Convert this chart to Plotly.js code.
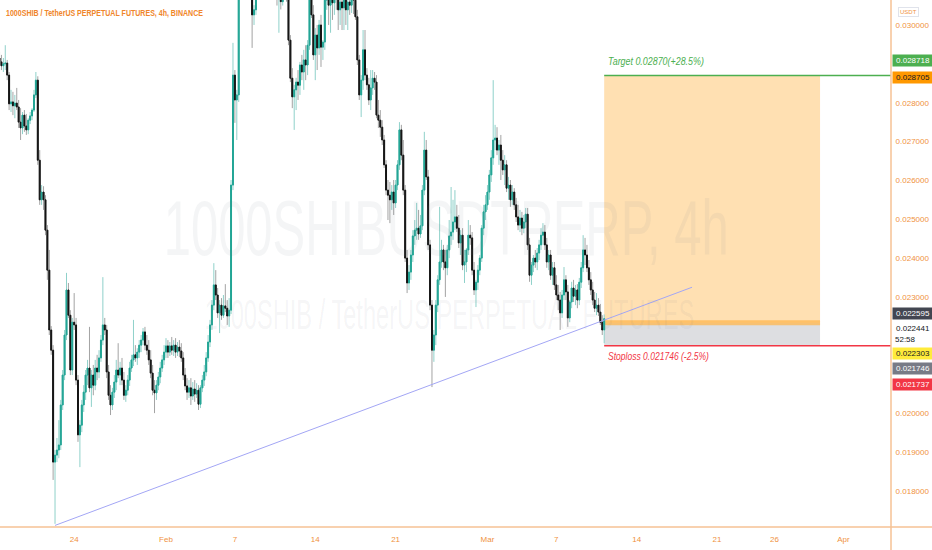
<!DOCTYPE html>
<html><head><meta charset="utf-8">
<script src="https://cdn.plot.ly/plotly-3.0.1.min.js"></script>
<style>html,body{margin:0;padding:0;background:#fff;}#chart{width:932px;height:550px;}</style>
</head><body><div id="chart"></div>
<script>
// ---- data: 1000SHIB/USDT 4h candles (start 2022-01-17 12:00, 4h step) ----
const openP = [
0.02915,0.02905,0.02895,0.02900,0.02902,0.02871,0.02797,0.02802,0.02792,0.02799,
0.02789,0.02750,0.02735,0.02768,0.02740,0.02730,0.02755,0.02766,0.02781,0.02820,
0.02858,0.02652,0.02550,0.02570,0.02550,0.02472,0.02369,0.02215,0.02163,0.01875,
0.01893,0.01906,0.01919,0.02022,0.02099,0.02202,0.02318,0.02253,0.02112,0.02235,
0.02228,0.02086,0.01945,0.01970,0.02022,0.02055,0.02099,0.02117,0.02066,0.02099,
0.02073,0.02117,0.02107,0.02143,0.02189,0.02228,0.02215,0.02107,0.02047,0.02022,
0.02055,0.02081,0.02112,0.02099,0.02117,0.02086,0.02047,0.02060,0.02086,0.02117,
0.02138,0.02151,0.02143,0.02158,0.02176,0.02189,0.02210,0.02176,0.02163,0.02138,
0.02104,0.02060,0.02053,0.02073,0.02094,0.02117,0.02138,0.02158,0.02174,0.02158,
0.02174,0.02163,0.02176,0.02158,0.02171,0.02161,0.02143,0.02099,0.02071,0.02055,
0.02066,0.02045,0.02063,0.02050,0.02060,0.02024,0.02066,0.02086,0.02107,0.02143,
0.02184,0.02228,0.02279,0.02331,0.02305,0.02259,0.02279,0.02253,0.02277,0.02271,
0.02251,0.02266,0.02588,0.02871,0.02807,0.02820,0.03167,0.03270,0.03380,0.03300,
0.03220,0.03160,0.03100,0.03026,0.03039,0.03116,0.03180,0.03220,0.03180,0.03150,
0.03170,0.03130,0.03150,0.03120,0.03100,0.03120,0.03070,0.03110,0.03060,0.03120,
0.03100,0.03090,0.02961,0.02863,0.02815,0.02833,0.02853,0.02845,0.02897,0.02879,
0.02910,0.02897,0.02948,0.03077,0.03026,0.02923,0.02974,0.02941,0.03000,0.02943,
0.02956,0.03064,0.03090,0.03051,0.03077,0.03057,0.03085,0.03069,0.03039,0.03059,
0.03044,0.03064,0.03039,0.03059,0.03051,0.03077,0.03064,0.03021,0.02910,0.02820,
0.02858,0.02936,0.02871,0.02846,0.02807,0.02838,0.02863,0.02853,0.02768,0.02755,
0.02737,0.02704,0.02640,0.02575,0.02562,0.02550,0.02570,0.02542,0.02588,0.02640,
0.02730,0.02665,0.02575,0.02400,0.02336,0.02364,0.02408,0.02457,0.02472,0.02477,
0.02462,0.02483,0.02575,0.02678,0.02609,0.02434,0.02279,0.02163,0.02202,0.02279,
0.02344,0.02390,0.02421,0.02390,0.02375,0.02421,0.02457,0.02467,0.02493,0.02506,
0.02477,0.02439,0.02459,0.02382,0.02390,0.02421,0.02459,0.02452,0.02369,0.02318,
0.02338,0.02369,0.02400,0.02477,0.02519,0.02537,0.02570,0.02614,0.02658,0.02704,
0.02709,0.02678,0.02691,0.02652,0.02627,0.02640,0.02580,0.02588,0.02550,0.02570,
0.02537,0.02506,0.02485,0.02503,0.02477,0.02493,0.02513,0.02434,0.02356,0.02382,
0.02400,0.02390,0.02413,0.02434,0.02459,0.02467,0.02434,0.02390,0.02408,0.02356,
0.02375,0.02331,0.02305,0.02292,0.02259,0.02305,0.02344,0.02313,0.02246,0.02287,
0.02323,0.02302,0.02318,0.02292,0.02338,0.02375,0.02421,0.02408,0.02375,0.02344,
0.02318,0.02292,0.02271,0.02279,0.02261,0.02235,0.02215];
const highP = [
0.02931,0.02923,0.02915,0.02948,0.02910,0.02879,0.02833,0.02828,0.02820,0.02838,
0.02807,0.02786,0.02776,0.02781,0.02771,0.02760,0.02776,0.02786,0.02833,0.02879,
0.02868,0.02678,0.02588,0.02585,0.02562,0.02485,0.02421,0.02225,0.02176,0.01906,
0.01937,0.01983,0.02035,0.02112,0.02215,0.02362,0.02336,0.02266,0.02246,0.02310,
0.02246,0.02099,0.01983,0.02035,0.02073,0.02112,0.02138,0.02223,0.02112,0.02125,
0.02138,0.02151,0.02163,0.02202,0.02351,0.02246,0.02228,0.02125,0.02073,0.02066,
0.02099,0.02138,0.02181,0.02133,0.02143,0.02107,0.02073,0.02099,0.02133,0.02151,
0.02241,0.02176,0.02168,0.02189,0.02202,0.02220,0.02223,0.02202,0.02189,0.02163,
0.02125,0.02086,0.02086,0.02107,0.02133,0.02151,0.02176,0.02194,0.02189,0.02184,
0.02197,0.02189,0.02194,0.02184,0.02189,0.02181,0.02158,0.02117,0.02091,0.02086,
0.02091,0.02081,0.02086,0.02078,0.02073,0.02073,0.02099,0.02125,0.02158,0.02202,
0.02241,0.02292,0.02387,0.02369,0.02323,0.02292,0.02297,0.02305,0.02333,0.02292,
0.02297,0.02601,0.02954,0.02884,0.02833,0.03200,0.03300,0.03430,0.03450,0.03360,
0.03280,0.03200,0.03120,0.03051,0.03141,0.03200,0.03250,0.03260,0.03230,0.03200,
0.03210,0.03180,0.03190,0.03160,0.03140,0.03150,0.03130,0.03160,0.03140,0.03170,
0.03150,0.03100,0.02974,0.02889,0.02846,0.02864,0.02884,0.02905,0.02923,0.02936,
0.02948,0.02961,0.03103,0.03116,0.03051,0.02992,0.03000,0.03013,0.03026,0.02961,
0.03077,0.03116,0.03129,0.03103,0.03116,0.03090,0.03129,0.03103,0.03090,0.03095,
0.03090,0.03103,0.03077,0.03090,0.03103,0.03103,0.03090,0.03039,0.02923,0.02871,
0.02987,0.02987,0.02889,0.02864,0.02884,0.02884,0.02879,0.02871,0.02807,0.02781,
0.02755,0.02717,0.02652,0.02601,0.02596,0.02588,0.02601,0.02601,0.02652,0.02750,
0.02743,0.02704,0.02588,0.02421,0.02382,0.02421,0.02472,0.02498,0.02542,0.02524,
0.02511,0.02588,0.02725,0.02704,0.02627,0.02447,0.02292,0.02215,0.02292,0.02356,
0.02532,0.02447,0.02434,0.02421,0.02434,0.02498,0.02583,0.02550,0.02575,0.02537,
0.02511,0.02472,0.02477,0.02421,0.02426,0.02498,0.02485,0.02467,0.02390,0.02344,
0.02382,0.02408,0.02485,0.02537,0.02562,0.02588,0.02627,0.02678,0.02858,0.02743,
0.02737,0.02704,0.02717,0.02678,0.02665,0.02652,0.02609,0.02601,0.02588,0.02580,
0.02555,0.02537,0.02524,0.02519,0.02511,0.02529,0.02529,0.02452,0.02390,0.02408,
0.02421,0.02426,0.02447,0.02477,0.02490,0.02485,0.02452,0.02421,0.02421,0.02390,
0.02390,0.02356,0.02331,0.02313,0.02318,0.02377,0.02356,0.02331,0.02292,0.02339,
0.02344,0.02331,0.02333,0.02349,0.02390,0.02459,0.02452,0.02434,0.02395,0.02364,
0.02339,0.02313,0.02310,0.02297,0.02282,0.02253,0.02255];
const lowP = [
0.02894,0.02884,0.02879,0.02884,0.02858,0.02781,0.02776,0.02768,0.02760,0.02781,
0.02735,0.02704,0.02719,0.02725,0.02717,0.02719,0.02745,0.02755,0.02776,0.02812,
0.02640,0.02537,0.02537,0.02524,0.02459,0.02344,0.02202,0.02151,0.01829,0.01716,
0.01875,0.01885,0.01906,0.02009,0.02086,0.02189,0.02246,0.02099,0.02099,0.02215,
0.02073,0.01927,0.01862,0.01952,0.02004,0.02035,0.02073,0.02055,0.02017,0.02047,
0.02060,0.02086,0.02091,0.02133,0.02176,0.02202,0.02091,0.02035,0.01996,0.02009,
0.02040,0.02060,0.02091,0.02073,0.02073,0.02035,0.02030,0.02047,0.02071,0.02107,
0.02122,0.02133,0.02125,0.02143,0.02158,0.02176,0.02163,0.02151,0.02125,0.02091,
0.02047,0.02001,0.02035,0.02060,0.02078,0.02107,0.02125,0.02143,0.02143,0.02148,
0.02151,0.02148,0.02143,0.02148,0.02145,0.02133,0.02086,0.02060,0.02035,0.02040,
0.02022,0.02035,0.02030,0.02040,0.02009,0.02014,0.02055,0.02071,0.02096,0.02133,
0.02171,0.02215,0.02266,0.02292,0.02246,0.02207,0.02241,0.02246,0.02261,0.02228,
0.02223,0.02256,0.02575,0.02748,0.02704,0.02802,0.03140,0.03230,0.03250,0.03180,
0.03120,0.03080,0.02941,0.03000,0.03026,0.03090,0.03150,0.03160,0.03130,0.03100,
0.03110,0.03090,0.03100,0.03080,0.03070,0.03050,0.02980,0.03040,0.03050,0.03080,
0.03060,0.02948,0.02853,0.02786,0.02730,0.02781,0.02807,0.02820,0.02858,0.02833,
0.02858,0.02871,0.02936,0.03018,0.02910,0.02858,0.02884,0.02923,0.02892,0.02910,
0.02936,0.03039,0.03000,0.02980,0.03013,0.03026,0.03039,0.02987,0.03000,0.02987,
0.02987,0.03000,0.02987,0.03026,0.03031,0.03028,0.03013,0.02897,0.02807,0.02763,
0.02833,0.02858,0.02833,0.02794,0.02781,0.02820,0.02833,0.02760,0.02735,0.02712,
0.02691,0.02632,0.02562,0.02498,0.02490,0.02524,0.02511,0.02529,0.02575,0.02627,
0.02652,0.02562,0.02390,0.02310,0.02318,0.02344,0.02390,0.02434,0.02447,0.02447,
0.02452,0.02472,0.02562,0.02601,0.02421,0.02266,0.02068,0.02133,0.02176,0.02261,
0.02331,0.02375,0.02369,0.02300,0.02356,0.02400,0.02434,0.02447,0.02472,0.02467,
0.02426,0.02408,0.02369,0.02336,0.02364,0.02408,0.02434,0.02356,0.02305,0.02274,
0.02318,0.02356,0.02390,0.02459,0.02498,0.02524,0.02550,0.02596,0.02640,0.02678,
0.02665,0.02640,0.02601,0.02614,0.02588,0.02570,0.02550,0.02532,0.02537,0.02524,
0.02493,0.02472,0.02467,0.02459,0.02464,0.02477,0.02421,0.02339,0.02331,0.02364,
0.02375,0.02369,0.02395,0.02421,0.02434,0.02421,0.02375,0.02369,0.02344,0.02331,
0.02318,0.02292,0.02266,0.02215,0.02246,0.02292,0.02292,0.02223,0.02235,0.02271,
0.02287,0.02279,0.02271,0.02279,0.02323,0.02364,0.02382,0.02364,0.02331,0.02305,
0.02279,0.02261,0.02253,0.02251,0.02228,0.02202,0.02181];
const closeP = [
0.02905,0.02895,0.02900,0.02902,0.02871,0.02797,0.02802,0.02792,0.02799,0.02789,
0.02750,0.02735,0.02768,0.02740,0.02730,0.02755,0.02766,0.02781,0.02820,0.02858,
0.02652,0.02550,0.02570,0.02550,0.02472,0.02369,0.02215,0.02163,0.01875,0.01893,
0.01906,0.01919,0.02022,0.02099,0.02202,0.02318,0.02253,0.02112,0.02235,0.02228,
0.02086,0.01945,0.01970,0.02022,0.02055,0.02099,0.02117,0.02066,0.02099,0.02073,
0.02117,0.02107,0.02143,0.02189,0.02228,0.02215,0.02107,0.02047,0.02022,0.02055,
0.02081,0.02112,0.02099,0.02117,0.02086,0.02047,0.02060,0.02086,0.02117,0.02138,
0.02151,0.02143,0.02158,0.02176,0.02189,0.02210,0.02176,0.02163,0.02138,0.02104,
0.02060,0.02053,0.02073,0.02094,0.02117,0.02138,0.02158,0.02174,0.02158,0.02174,
0.02163,0.02176,0.02158,0.02171,0.02161,0.02143,0.02099,0.02071,0.02055,0.02066,
0.02045,0.02063,0.02050,0.02060,0.02024,0.02066,0.02086,0.02107,0.02143,0.02184,
0.02228,0.02279,0.02331,0.02305,0.02259,0.02279,0.02253,0.02277,0.02271,0.02251,
0.02266,0.02588,0.02871,0.02807,0.02820,0.03167,0.03270,0.03380,0.03300,0.03220,
0.03160,0.03100,0.03026,0.03039,0.03116,0.03180,0.03220,0.03180,0.03150,0.03170,
0.03130,0.03150,0.03120,0.03100,0.03120,0.03070,0.03110,0.03060,0.03120,0.03100,
0.03090,0.02961,0.02863,0.02815,0.02833,0.02853,0.02845,0.02897,0.02879,0.02910,
0.02897,0.02948,0.03077,0.03026,0.02923,0.02974,0.02941,0.03000,0.02943,0.02956,
0.03064,0.03090,0.03051,0.03077,0.03057,0.03085,0.03069,0.03039,0.03059,0.03044,
0.03064,0.03039,0.03059,0.03051,0.03077,0.03064,0.03021,0.02910,0.02820,0.02858,
0.02936,0.02871,0.02846,0.02807,0.02838,0.02863,0.02853,0.02768,0.02755,0.02737,
0.02704,0.02640,0.02575,0.02562,0.02550,0.02570,0.02542,0.02588,0.02640,0.02730,
0.02665,0.02575,0.02400,0.02336,0.02364,0.02408,0.02457,0.02472,0.02477,0.02462,
0.02483,0.02575,0.02678,0.02609,0.02434,0.02279,0.02163,0.02202,0.02279,0.02344,
0.02390,0.02421,0.02390,0.02375,0.02421,0.02457,0.02467,0.02493,0.02506,0.02477,
0.02439,0.02459,0.02382,0.02390,0.02421,0.02459,0.02452,0.02369,0.02318,0.02338,
0.02369,0.02400,0.02477,0.02519,0.02537,0.02570,0.02614,0.02658,0.02704,0.02709,
0.02678,0.02691,0.02652,0.02627,0.02640,0.02580,0.02588,0.02550,0.02570,0.02537,
0.02506,0.02485,0.02503,0.02477,0.02493,0.02513,0.02434,0.02356,0.02382,0.02400,
0.02390,0.02413,0.02434,0.02459,0.02467,0.02434,0.02390,0.02408,0.02356,0.02375,
0.02331,0.02305,0.02292,0.02259,0.02305,0.02344,0.02313,0.02246,0.02287,0.02323,
0.02302,0.02318,0.02292,0.02338,0.02375,0.02421,0.02408,0.02375,0.02344,0.02318,
0.02292,0.02271,0.02279,0.02261,0.02235,0.02215,0.022441];
const startTimeUTC = Date.UTC(2022, 0, 17, 12, 0);
const candleHours = 4;

// x-axis ticks
const tickDates = ['2022-01-24','2022-02-01','2022-02-07','2022-02-14','2022-02-21','2022-03-01','2022-03-07','2022-03-14','2022-03-21','2022-03-26','2022-04-01'];
const tickLabels = ['24','Feb','7','14','21','Mar','7','14','21','26','Apr'];
// y-axis ticks visible in the original (0.021 / 0.022 are hidden behind price labels)
const priceTicks = [0.018, 0.019, 0.020, 0.023, 0.024, 0.025, 0.026, 0.027, 0.028, 0.030];

// trend line (two anchor points)
const trendDates = ['2022-01-22 08:00','2022-03-18 19:40'];
const trendPrices = [0.01712, 0.02325];

// long position tool
const planStart = '2022-03-11 04:00';
const planEnd = '2022-03-29 23:15';
const targetPrice = 0.02870;
const entryPrice = 0.022335;
const stopPrice = 0.021746;
const targetText = 'Target 0.02870(+28.5%)';
const stopText = 'Stoploss 0.021746 (-2.5%)';

// right-hand price labels
const labelValues = [0.028718, 0.028705, 0.022595, 0.022441, 0.022303, 0.021746, 0.021737];
const countdownText = '52:58';
const titleText = '1000SHIB / TetherUS PERPETUAL FUTURES, 4h, BINANCE';
const watermark1 = '1000SHIBUSDTPERP, 4h';
const watermark2 = '1000SHIB / TetherUS PERPETUAL FUTURES';
const unitText = 'USDT';

// ---- styles ----
const labelStyle = [
  {bg:'#4caf50', fg:'#ffffff', shift: 14},
  {bg:'#ff9800', fg:'#131722', shift: -2},
  {bg:'#434651', fg:'#ffffff', shift: -1},
  {bg:'#ffffff', fg:'#131722', shift: -10},
  {bg:'#ffeb3b', fg:'#131722', shift: -29},
  {bg:'#787b86', fg:'#ffffff', shift: -23},
  {bg:'#f23645', fg:'#ffffff', shift: -38}
];
const FONT = '"Liberation Sans Narrow", "Arial Narrow", "Liberation Sans", Arial, sans-serif';
const ORANGE = '#f0923e';
const AXISLINE = '#f6c294';

const times = closeP.map((_, i) => new Date(startTimeUTC + i * candleHours * 3600000).toISOString().slice(0, 16).replace('T', ' '));
const bodyHigh = openP.map((o, i) => Math.max(o, closeP[i]));
const bodyLow = openP.map((o, i) => Math.min(o, closeP[i]));

const data = [
  {type:'candlestick', x: times, open: openP, high: highP, low: lowP, close: closeP,
   increasing:{line:{color:'#8fd1ca', width:1}, fillcolor:'#8fd1ca'},
   decreasing:{line:{color:'#a3a3a3', width:1}, fillcolor:'#a3a3a3'},
   whiskerwidth:0, hoverinfo:'skip', showlegend:false},
  {type:'candlestick', x: times, open: openP, high: bodyHigh, low: bodyLow, close: closeP,
   increasing:{line:{color:'#22a595', width:1}, fillcolor:'#22a595'},
   decreasing:{line:{color:'#141414', width:1}, fillcolor:'#141414'},
   whiskerwidth:0, hoverinfo:'skip', showlegend:false},
  {type:'scatter', mode:'lines', x: trendDates, y: trendPrices,
   line:{color:'#a3a6f5', width:1}, hoverinfo:'skip', showlegend:false}
];

const annotations = [
  {xref:'paper', yref:'paper', x:0.5, y:0.567, xanchor:'center', yanchor:'middle', showarrow:false,
   text: watermark1, font:{family:FONT, size:78, color:'rgba(120,123,134,0.08)'}},
  {xref:'paper', yref:'paper', x:0.505, y:0.404, xanchor:'center', yanchor:'middle', showarrow:false,
   text: watermark2, font:{family:FONT, size:42, color:'rgba(120,123,134,0.08)'}},
  {xref:'paper', yref:'paper', x:0, y:1, xanchor:'left', yanchor:'top', xshift:4, yshift:-6, showarrow:false,
   text:'<b>' + titleText + '</b>', font:{family:FONT, size:9, color:'#f0862a'}},
  {xref:'x', yref:'y', x: planStart, y: targetPrice, xanchor:'left', yanchor:'middle', xshift:2, yshift:14, showarrow:false,
   text:'<i>' + targetText + '</i>', font:{family:FONT, size:10, color:'#4caf50'}},
  {xref:'x', yref:'y', x: planStart, y: stopPrice, xanchor:'left', yanchor:'middle', xshift:2, yshift:-11, showarrow:false,
   text:'<i>' + stopText + '</i>', font:{family:FONT, size:10, color:'#f23645'}},
  {xref:'paper', yref:'paper', x:1, y:1, xanchor:'left', yanchor:'top', xshift:7, yshift:-7, showarrow:false,
   text: unitText, font:{family:FONT, size:6, color:ORANGE}, bordercolor:'#e0e3eb', borderwidth:1, borderpad:1, bgcolor:'#ffffff'}
];
labelValues.forEach((v, i) => {
  const s = labelStyle[i];
  annotations.push({xref:'paper', yref:'y', x:1, y:v, xanchor:'left', yanchor:'middle', xshift:0.5, yshift:s.shift,
    showarrow:false, text: v.toFixed(6), font:{family:FONT, size:8, color:s.fg}, bgcolor:s.bg, borderpad:1, width:38, align:'center'});
});
annotations.push({xref:'paper', yref:'y', x:1, y: labelValues[3], xanchor:'left', yanchor:'middle', xshift:3, yshift: labelStyle[3].shift - 11, showarrow:false,
  text: countdownText, font:{family:FONT, size:8, color:'#131722'}, bgcolor:'#ffffff', borderpad:0});

const shapes = [
  {type:'rect', xref:'x', yref:'y', x0: planStart, x1: planEnd, y0: entryPrice, y1: targetPrice, fillcolor:'rgba(255,152,0,0.30)', line:{width:0}, layer:'below'},
  {type:'rect', xref:'x', yref:'y', x0: planStart, x1: planEnd, y0: stopPrice, y1: entryPrice, fillcolor:'rgba(120,123,134,0.25)', line:{width:0}, layer:'below'},
  {type:'line', xref:'x', yref:'y', x0: planStart, x1: planEnd, y0: entryPrice, y1: entryPrice, line:{color:'rgba(255,183,77,0.75)', width:5}, layer:'below'},
  {type:'line', xref:'x', yref:'y', x0: planStart, x1: '2022-04-05 03:36', y0: targetPrice, y1: targetPrice, line:{color:'#4caf50', width:1.5}},
  {type:'line', xref:'x', yref:'y', x0: planStart, x1: '2022-04-05 03:36', y0: stopPrice, y1: stopPrice, line:{color:'#f23645', width:1.5}},
  {type:'line', xref:'paper', yref:'paper', x0:1, x1:1, y0:-0.05, y1:1, line:{color:AXISLINE, width:1.5}},
  {type:'line', xref:'paper', yref:'paper', x0:0, x1:1.06, y0:0, y1:0, line:{color:AXISLINE, width:1.5}}
];

const layout = {
  width: 932, height: 550,
  margin: {l:0, r:41, t:0, b:23, pad:0},
  paper_bgcolor:'#ffffff', plot_bgcolor:'#ffffff',
  showlegend:false, boxmode:'overlay', hovermode:false, dragmode:false,
  xaxis: {type:'date', range:['2022-01-17 12:58','2022-04-05 03:36'], rangeslider:{visible:false},
    tickvals: tickDates, ticktext: tickLabels, showgrid:false, zeroline:false, showline:false,
    ticks:'outside', ticklen:4, tickcolor:'rgba(0,0,0,0)', tickfont:{family:FONT, size:8, color:ORANGE}, fixedrange:true},
  yaxis: {side:'right', range:[0.017079, 0.030643], tickmode:'array', tickvals: priceTicks, tickformat:'.6f',
    showgrid:false, zeroline:false, showline:false, automargin:false,
    ticks:'outside', ticklen:2, tickcolor:'rgba(0,0,0,0)', tickfont:{family:FONT, size:8, color:ORANGE}, fixedrange:true},
  annotations: annotations,
  shapes: shapes
};

// horizontally condense long labels to match the narrow typeface of the original
const fitWidths = [[0, 565], [1, 490], [2, 197], [3, 96], [4, 101]];

Plotly.newPlot('chart', data, layout, {staticPlot:true, displayModeBar:false}).then(gd => {
  fitWidths.forEach(([k, w]) => {
    const g = gd.querySelector('.annotation[data-index="' + k + '"]');
    if (!g) return;
    const t = g.querySelector('text');
    if (!t) return;
    const bb = t.getBBox();
    if (!bb.width) return;
    const sx = Math.min(1, w / bb.width);
    const x0 = (k <= 1) ? bb.x + bb.width / 2 : bb.x;
    t.setAttribute('transform', 'translate(' + x0 + ',0) scale(' + sx + ',1) translate(' + (-x0) + ',0)');
  });
});
</script>
</body></html>
